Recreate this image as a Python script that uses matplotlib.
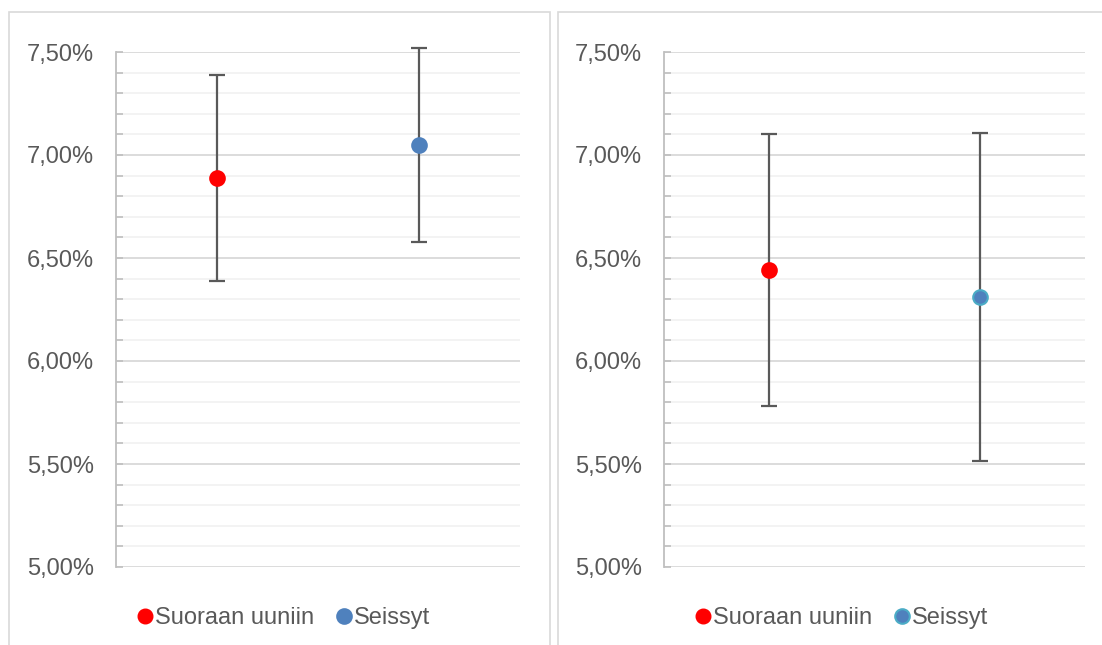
import matplotlib
matplotlib.use("Agg")
import matplotlib.pyplot as plt
from matplotlib.patches import Rectangle
from matplotlib.ticker import MultipleLocator, FuncFormatter
from matplotlib.lines import Line2D

plt.rcParams['font.family'] = ['Liberation Sans', 'DejaVu Sans']

categories = ['Suoraan uuniin', 'Seissyt']
# left panel
left_means = [6.89, 7.05]
left_err = [0.50, 0.47]
# right panel
right_means = [6.44, 6.31]
right_err = [0.66, 0.795]

red = '#ff0000'
blue = '#4f81bd'
text_col = '#595959'

fig = plt.figure(figsize=(11.02, 6.45), dpi=100)

# panel borders (chart areas), open at the bottom / right edge of the image
for x0, w in ((9, 541), (558, 600)):
    fig.add_artist(Rectangle((x0 / 1102, -0.05), w / 1102, (645 - 12) / 645 + 0.05,
                             transform=fig.transFigure, fill=False,
                             edgecolor='#d9d9d9', linewidth=1.2))

ax1 = fig.add_axes([116 / 1102, 78 / 645, 404 / 1102, 515 / 645])
ax2 = fig.add_axes([664 / 1102, 78 / 645, 421 / 1102, 515 / 645])

pct = FuncFormatter(lambda v, pos: ('%.2f%%' % v).replace('.', ','))


def draw(ax, means, errs, edge2):
    x = [0.25, 0.75]
    cols = [red, blue]
    edges = [red, edge2]
    for i in range(2):
        eb = ax.errorbar(x[i], means[i], yerr=errs[i], fmt='none', ecolor=text_col,
                         elinewidth=1.6, capsize=6, capthick=1.6, zorder=3)
        for art in eb.lines[1] + eb.lines[2]:
            art.set_clip_on(False)
        ax.plot(x[i], means[i], 'o', color=cols[i], markeredgecolor=edges[i],
                markeredgewidth=1.5, markersize=10.5, zorder=4)
    ax.set_xlim(0, 1)
    ax.set_ylim(5.0, 7.5)
    ax.yaxis.set_major_locator(MultipleLocator(0.5))
    ax.yaxis.set_minor_locator(MultipleLocator(0.1))
    ax.yaxis.set_major_formatter(pct)
    ax.grid(which='major', axis='y', color='#d9d9d9', linewidth=1.3, zorder=0)
    ax.grid(which='minor', axis='y', color='#f2f2f2', linewidth=1.3, zorder=0)
    ax.set_xticks([])
    for s in ('top', 'right', 'bottom'):
        ax.spines[s].set_visible(False)
    ax.spines['left'].set_color('#bfbfbf')
    ax.spines['left'].set_linewidth(1.3)
    ax.tick_params(axis='y', which='both', direction='in', length=5,
                   color='#bfbfbf', width=1.2)
    ax.tick_params(axis='y', which='major', labelsize=17,
                   labelcolor=text_col, pad=16)
    ax.set_axisbelow(True)


draw(ax1, left_means, left_err, blue)
draw(ax2, right_means, right_err, '#4bacc6')


def legend(cx, edge2):
    handles = [
        Line2D([], [], ls='none', marker='o', color=red, markersize=10.5),
        Line2D([], [], ls='none', marker='o', color=blue,
               markeredgecolor=edge2, markeredgewidth=1.5, markersize=10.5),
    ]
    fig.legend(handles, categories, loc='center', bbox_to_anchor=(cx, 27 / 645),
               ncol=2, frameon=False, fontsize=17, labelcolor=text_col,
               handlelength=0.6, handletextpad=0.12, columnspacing=1.0,
               borderpad=0)


legend(284 / 1102, blue)
legend(842 / 1102, '#4bacc6')

plt.savefig('out.png', dpi=100)
